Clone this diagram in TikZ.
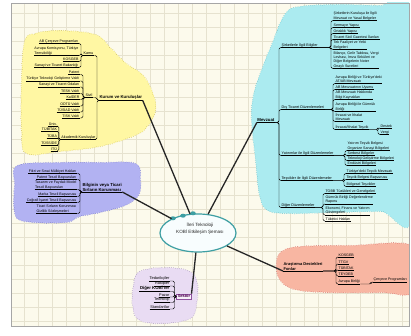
\documentclass[tikz,border=0pt]{standalone}
\usepackage{fontspec}
\setmainfont{Liberation Sans}
\usetikzlibrary{shapes.geometric,decorations.pathmorphing}

\definecolor{paper}{HTML}{FCFAEC}
\definecolor{gridc}{HTML}{E6E2CF}
\definecolor{yel}{HTML}{FFF7A3}
\definecolor{yelb}{HTML}{C9B84E}
\definecolor{cya}{HTML}{ABEBF0}
\definecolor{cyab}{HTML}{6FBFC6}
\definecolor{lav}{HTML}{B2B2F2}
\definecolor{lavb}{HTML}{7474C4}
\definecolor{pnk}{HTML}{F8B6A2}
\definecolor{pnkb}{HTML}{D06A6A}
\definecolor{lil}{HTML}{E9DCF3}
\definecolor{lilb}{HTML}{9A88B2}
\definecolor{ovalc}{HTML}{3E9FA3}

\begin{document}
\begin{tikzpicture}[x=1pt,y=-1pt,
    itm/.style={font=\fontsize{3.6}{4.1}\selectfont,inner xsep=0.4pt,inner ysep=0.5pt,align=left,
                append after command={(\tikzlastnode.south west) edge[line width=0.4pt] (\tikzlastnode.south east)}},
    sub/.style={itm,font=\fontsize{3.7}{4.2}\selectfont},
    topic/.style={font=\fontsize{4.3}{4.9}\selectfont\bfseries,inner xsep=0.4pt,inner ysep=0.6pt,align=left,
                append after command={(\tikzlastnode.south west) edge[line width=0.8pt] (\tikzlastnode.south east)}},
    br/.style={line width=0.45pt,rounded corners=1.5pt},
    con/.style={line width=1.3pt,black!85},
    blob/.style={decorate,decoration={bumps,segment length=5pt,amplitude=0.9pt},line width=0.5pt,dotted}]
  \useasboundingbox (0,0) rectangle (411,336);

  % paper, grid and clouds
  \begin{scope}
    \clip (11,3) rectangle (409,326);
    \fill[paper] (11,3) rectangle (409,326);
    \foreach \x in {10,24,...,409} \draw[gridc,line width=0.4pt] (\x,3) -- (\x,326);
    \foreach \y in {13,27,...,326} \draw[gridc,line width=0.4pt] (11,\y) -- (409,\y);
    \draw[blob,fill=yel,draw=yelb] plot[smooth cycle,tension=0.6] coordinates {(25,42) (35,34) (60,31) (95,35) (110,48) (125,63) (143,76) (153,95) (155,110) (148,125) (135,135) (100,146) (60,151) (27,153) (22,130) (22,80)};
    \draw[blob,fill=lav,draw=lavb] plot[smooth cycle,tension=0.6] coordinates {(18,166) (60,163) (100,163) (135,164) (140,180) (138,195) (125,205) (100,212) (80,216) (65,222) (25,221) (15,212) (15,185)};
    \draw[blob,fill=cya,draw=cyab] plot[smooth cycle,tension=0.6] coordinates {(285,15) (300,7) (340,5) (380,6) (414,5) (414,212) (380,211) (330,212) (290,213) (268,210) (260,195) (256,160) (252,120) (254,95) (262,70) (272,45)};
    \draw[blob,fill=pnk,draw=pnkb] plot[smooth cycle,tension=0.6] coordinates {(282,252) (300,247) (350,246) (414,247) (414,291) (380,292) (330,292) (295,289) (280,279) (277,263)};
    \draw[blob,fill=lil,draw=lilb] plot[smooth cycle,tension=0.6] coordinates {(140,272) (165,268) (190,272) (197,285) (196,305) (190,318) (165,323) (140,320) (133,305) (134,285)};
  \end{scope}
  \draw[gray!70,line width=0.8pt] (11,3) rectangle (409,326);

  % central topic
  \node[ellipse,draw=ovalc,fill=white!92!cya,line width=1.2pt,minimum width=76pt,minimum height=38pt] (Cen) at (198,233) {};
  \fill[ovalc] (173,218.3) ellipse (2.8pt and 2pt) (183,215.7) ellipse (2.8pt and 2pt) (193,213.3) ellipse (2.8pt and 2pt);
  \node[font=\fontsize{4.6}{7}\selectfont,align=center,text=black!85] (Ttl) at (200,228.5) {İleri Teknoloji\\KOBİ Etkileşim Şeması};

  % Kurum ve Kuruluşlar
  \node[topic,anchor=south west] (Kurum) at (99,100.5) {Kurum ve Kuruluşlar};
  \node[sub,anchor=south west] (Kamu) at (83,55.5) {Kamu};
  \node[itm,anchor=south east] (K1) at (79,43.5) {AB Çerçeve Programları};
  \node[itm,anchor=south east] (K2) at (79,55.5) {Avrupa Komisyonu, Türkiye\\Temsilciliği};
  \node[itm,anchor=south east] (K3) at (79,61.5) {KOSGEB};
  \node[itm,anchor=south east] (K4) at (79,67.5) {Sanayi ve Ticaret Bakanlığı};
  \node[sub,anchor=south west] (Sivil) at (85,97.5) {Sivil};
  \node[itm,anchor=south east] (S1) at (80,74.5) {Patent};
  \node[itm,anchor=south east] (S2) at (80,81) {Türkiye Teknoloji Geliştirme Vakfı};
  \node[itm,anchor=south east] (S3) at (80,87) {Sanayi ve Ticaret Odaları};
  \node[itm,anchor=south east] (S4) at (80,93.5) {TESK Vakfı};
  \node[itm,anchor=south east] (S5) at (80,99.5) {KalDER};
  \node[itm,anchor=south east] (S6) at (80,106) {ODTÜ Vakfı};
  \node[itm,anchor=south east] (S7) at (80,112) {TÜSİAD Vakfı};
  \node[itm,anchor=south east] (S8) at (80,118) {TİSK Vakfı};
  \node[sub,anchor=south east] (Akad) at (96,139.5) {Akademik Kuruluşlar};
  \node[itm,anchor=south east] (A1) at (57.5,126) {Üniv.};
  \node[itm,anchor=south east] (A2) at (57.5,131.5) {TÜBİTAK};
  \node[itm,anchor=south east] (A3) at (57.5,138) {TÜBA};
  \node[itm,anchor=south east] (A4) at (57.5,145) {TÜSSİDE};
  \node[itm,anchor=south east] (A5) at (57.5,151) {İTÜ};
  \foreach \n in {K1,K2,K3,K4} \draw[br] (\n.south east) -| ([xshift=-2pt]Kamu.south west) -- (Kamu.south west);
  \foreach \n in {S1,S2,S3,S4,S5,S6,S7,S8} \draw[br] (\n.south east) -| ([xshift=-2pt]Sivil.south west) -- (Sivil.south west);
  \foreach \n in {A1,A2,A3,A4,A5} \draw[br] (\n.south east) -| ([xshift=-2pt]Akad.south west) -- (Akad.south west);
  \foreach \n in {Kamu,Sivil,Akad} \draw[br] (\n.south east) -| ([xshift=-2pt]Kurum.south west) -- (Kurum.south west);

  % Bilginin veya Ticari Sirlarin Korunmasi
  \node[topic,anchor=south west] (Bilgi) at (82,192) {Bilginin veya Ticari\\Sırların Korunması};
  \node[itm,anchor=south east] (B1) at (77,173.5) {Fikri ve Sınai Mülkiyet Hakları};
  \node[itm,anchor=south east] (B2) at (77,179.5) {Patent Tescil Başvuruları};
  \node[itm,anchor=south east] (B3) at (77,189.5) {Tasarım ve Faydalı Model\\Tescil Başvuruları};
  \node[itm,anchor=south east] (B4) at (77,196.5) {Marka Tescil Başvurusu};
  \node[itm,anchor=south east] (B5) at (77,202.5) {Coğrafi İşaret Tescil Başvurusu};
  \node[itm,anchor=south east] (B6) at (77,213.5) {Ticari Sırların Korunması\\Gizlilik Sözleşmeleri};
  \foreach \n in {B1,B2,B3,B4,B5,B6} \draw[br] (\n.south east) -| ([xshift=-2pt]Bilgi.south west) -- (Bilgi.south west);

  % Mevzuat
  \node[topic,anchor=south east] (Mev) at (275,122.5) {Mevzuat};
  \node[sub,anchor=south west] (M1) at (281,47.5) {Şirketlerle İlgili Bilgiler};
  \node[sub,anchor=south west] (M2) at (281,109.5) {Dış Ticaret Düzenlemeleri};
  \node[sub,anchor=south west] (M3) at (281,155.5) {Yatırımlar ile İlgili Düzenlemeler};
  \node[sub,anchor=south west] (M4) at (281,180.5) {Teşvikler ile İlgili Düzenlemeler};
  \node[sub,anchor=south west] (M5) at (281,207.5) {Diğer Düzenlemeler};
  \foreach \n in {M1,M2,M3,M4,M5} \draw[br] (Mev.south east) -| ([xshift=-2pt]\n.south west) -- (\n.south west);
  \node[itm,anchor=south west] (C1) at (333,20.5) {Şirketlerin Kuruluşu ile İlgili\\Mevzuat ve Yasal Belgeler};
  \node[itm,anchor=south west] (C2) at (333,27.5) {Sermaye Yapısı};
  \node[itm,anchor=south west] (C3) at (333,33.5) {Ortaklık Yapısı};
  \node[itm,anchor=south west] (C4) at (333,39.5) {Ticaret Sicil Gazetesi İlanları};
  \node[itm,anchor=south west] (C5) at (333,49.5) {Tek Faaliyet ve Yetki\\Belgeleri};
  \node[itm,anchor=south west] (C6) at (333,68.5) {Bilanço, Gelir Tablosu, Vergi\\Levhası, İmza Sirküleri ve\\Diğer Belgelerin Noter\\Onaylı Suretleri};
  \foreach \n in {C1,C2,C3,C4,C5,C6} \draw[br] (M1.south east) -| ([xshift=-2pt]\n.south west) -- (\n.south west);
  \node[itm,anchor=south west] (D1) at (335,83.5) {Avrupa Birliği ve Türkiye'deki\\AT/AB Mevzuatı};
  \node[itm,anchor=south west] (D2) at (335,89.5) {AB Mevzuatının Uyumu};
  \node[itm,anchor=south west] (D3) at (335,99.5) {AB Mevzuatı Hakkında\\Bilgi Kaynakları};
  \node[itm,anchor=south west] (D4) at (335,111.5) {Avrupa Birliği ile Gümrük\\Birliği};
  \node[itm,anchor=south west] (D5) at (335,121.5) {İhracat ve İthalat\\Mevzuatı};
  \node[itm,anchor=south west] (D6) at (335,129.5) {İhracat/İthalat Teşvik};
  \foreach \n in {D1,D2,D3,D4,D5,D6} \draw[br] (M2.south east) -| ([xshift=-2pt]\n.south west) -- (\n.south west);
  \node[itm,anchor=south west] (E1) at (380,128) {Destek};
  \node[itm,anchor=south west] (E2) at (380,134.5) {Vergi};
  \foreach \n in {E1,E2} \draw[br] (D6.south east) -| ([xshift=-2pt]\n.south west) -- (\n.south west);
  \node[itm,anchor=south west] (F1) at (347,150.5) {Yatırım Teşvik Belgesi\\Organize Sanayi Bölgeleri};
  \node[itm,anchor=south west] (F2) at (347,155.5) {Serbest Bölgeler};
  \node[itm,anchor=south west] (F3) at (347,160.5) {Teknoloji Geliştirme Bölgeleri};
  \node[itm,anchor=south west] (F4) at (347,165.5) {Endüstri Bölgeleri};
  \foreach \n in {F1,F2,F3,F4} \draw[br] (M3.south east) -| ([xshift=-2pt]\n.south west) -- (\n.south west);
  \node[itm,anchor=south west] (G1) at (346,173.5) {Türkiye'deki Teşvik Mevzuatı};
  \node[itm,anchor=south west] (G2) at (346,179.5) {Teşvik Belgesi Başvurusu};
  \node[itm,anchor=south west] (G3) at (346,186.5) {Bölgesel Teşvikler};
  \foreach \n in {G1,G2,G3} \draw[br] (M4.south east) -| ([xshift=-2pt]\n.south west) -- (\n.south west);
  \node[itm,anchor=south west] (H1) at (325,193.5) {TOBB Tüzükleri ve Genelgeleri};
  \node[itm,anchor=south west] (H2) at (325,204) {Gümrük Birliği Değerlendirme\\Raporu};
  \node[itm,anchor=south west] (H3) at (325,215) {Ekonomi, Finans ve Yatırım\\Göstergeleri};
  \node[itm,anchor=south west] (H4) at (325,221) {Tüketici Hakları};
  \foreach \n in {H1,H2,H3,H4} \draw[br] (M5.south east) -| ([xshift=-2pt]\n.south west) -- (\n.south west);

  % Arastirma Destekleri
  \node[topic,font=\fontsize{4}{4.6}\selectfont\bfseries,anchor=south west] (Ara) at (283,271) {Araştırma Destekleri\\Fonlar};
  \node[itm,anchor=south west] (P1) at (338,257) {KOSGEB};
  \node[itm,anchor=south west] (P2) at (338,264) {TTGV};
  \node[itm,anchor=south west] (P3) at (338,270) {TÜBİTAK};
  \node[itm,anchor=south west] (P4) at (338,276) {TEYDEB};
  \node[itm,anchor=south west] (P5) at (338,284) {Avrupa Birliği};
  \foreach \n in {P1,P2,P3,P4,P5} \draw[br] (Ara.south east) -| ([xshift=-2pt]\n.south west) -- (\n.south west);
  \node[itm,anchor=south west] (P6) at (373,282) {Çerçeve Programları};
  \draw[br] (P5.south east) -| ([xshift=-2pt]P6.south west) -- (P6.south west);

  % Sektor
  \node[draw=lilb!60!violet,fill=white!60!lil,line width=0.6pt,inner sep=1pt,font=\fontsize{4}{4.6}\selectfont\bfseries,text=violet!60!black] (Sek) at (184,296.5) {Sektör};
  \node[itm,font=\fontsize{3.9}{4.4}\selectfont,anchor=south east] (R1) at (170,281) {Tedarikçiler};
  \node[itm,font=\fontsize{3.9}{4.4}\selectfont,anchor=south east] (R2) at (170,286) {Rakipler};
  \node[itm,font=\fontsize{4.3}{4.8}\selectfont\bfseries,anchor=south east] (R3) at (170,291.5) {Diğer KOBİ'ler};
  \node[itm,font=\fontsize{3.9}{4.4}\selectfont,anchor=south east] (R4) at (170,297) {Pazar};
  \node[itm,font=\fontsize{3.9}{4.4}\selectfont,anchor=south east] (R5) at (170,302.5) {Teknoloji};
  \node[itm,font=\fontsize{3.9}{4.4}\selectfont,anchor=south east] (R6) at (170,309) {Standartlar};
  \foreach \n in {R1,R2,R3,R4,R5,R6} \draw[br] (\n.south east) -| ([xshift=-2pt]Sek.west) -- (Sek.west);

  % main branches
  \draw[con] (Kurum.south east) -- (Cen);
  \draw[con] (Bilgi.south east) -- (Cen);
  \draw[con] (Mev.south west) -- (Cen);
  \draw[con] (Ara.south west) -- (Cen);
  \draw[con] (Sek.north east) -- (Cen);
\end{tikzpicture}
\end{document}
